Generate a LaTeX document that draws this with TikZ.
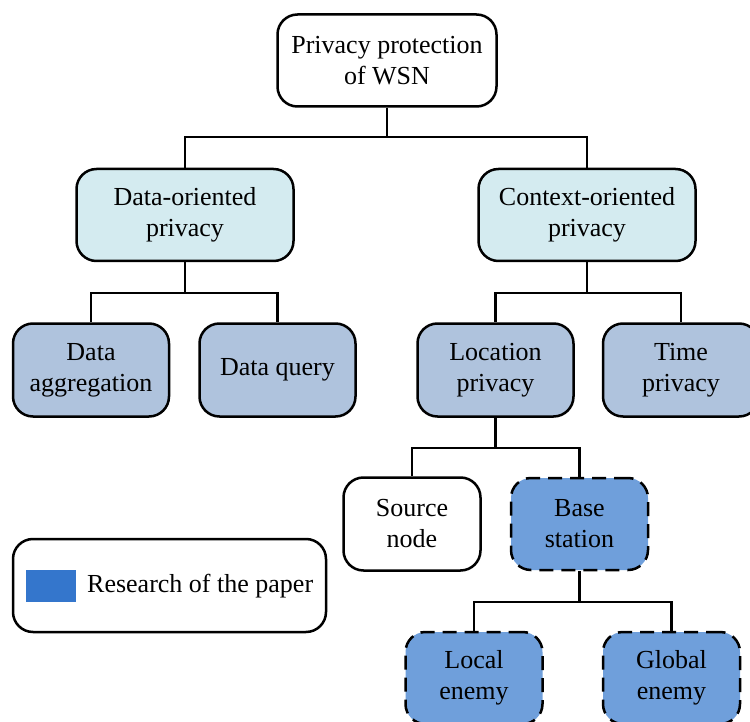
\documentclass[tikz,border=0pt]{standalone}
\usepackage{fontspec}
\setmainfont{Liberation Serif}
\definecolor{cyanbox}{HTML}{D4EBF0}
\definecolor{graybox}{HTML}{AFC3DD}
\definecolor{bluebox}{HTML}{6F9FDB}
\definecolor{swatch}{HTML}{3476CC}
\begin{document}
\begin{tikzpicture}[x=1pt,y=-1pt,
  box/.style={draw=black, line width=2.5pt, rounded corners=20pt, align=center,
    inner sep=0pt, font=\fontsize{26}{31}\selectfont},
  rootbox/.style={box, fill=white, minimum width=219pt, minimum height=92pt},
  lvltwo/.style={box, fill=cyanbox, minimum width=217pt, minimum height=92pt},
  lvlthree/.style={box, fill=graybox, minimum width=156pt, minimum height=93pt},
  lvlfour/.style={box, fill=white, minimum width=137pt, minimum height=93pt},
  research/.style={box, fill=bluebox, dash pattern=on 14pt off 8pt, minimum width=137pt, minimum height=92pt},
  conn/.style={draw=black, line width=2.2pt}
]
\useasboundingbox (0,0) rectangle (750,722);
\node[rootbox] (root) at (387,60.5) {Privacy protection\\of WSN};
\node[lvltwo] (data) at (185,215) {Data-oriented\\privacy};
\node[lvltwo] (ctx) at (587,215) {Context-oriented\\privacy};
\node[lvlthree] (agg) at (91,370) {Data\\aggregation};
\node[lvlthree] (query) at (277.5,370) {Data query};
\node[lvlthree] (loc) at (495.5,370) {Location\\privacy};
\node[lvlthree] (time) at (681,370) {Time\\privacy};
\node[lvlfour] (src) at (412,524) {Source\\node};
\node[research] (base) at (579.5,524) {Base\\station};
\node[research] (local) at (474,678) {Local\\enemy};
\node[research] (global) at (671.5,678) {Global\\enemy};
\node[box, fill=white, minimum width=313pt, minimum height=93pt] (legend) at (169.5,585.5) {};
\node[fill=swatch, minimum width=50pt, minimum height=32pt, inner sep=0pt] (sw) at (51,586) {};
\node[anchor=west, inner sep=0pt, font=\fontsize{26}{31}\selectfont] (legtext) at (87,586) {Research of the paper};
% connectors
\coordinate (j1) at (387,137);
\coordinate (j2) at (185,293);
\coordinate (j3) at (587,293);
\coordinate (j4) at (495.5,448);
\coordinate (j5) at (579.5,602);
\begin{scope}[conn]
\draw (root.south) -- (j1) -| (data.north);
\draw (j1) -| (ctx.north);
\draw (data.south) -- (j2) -| (agg.north);
\draw (j2) -| (query.north);
\draw (ctx.south) -- (j3) -| (loc.north);
\draw (j3) -| (time.north);
\draw (loc.south) -- (j4) -| (src.north);
\draw (j4) -| (base.north);
\draw (base.south) -- (j5) -| (local.north);
\draw (j5) -| (global.north);
\end{scope}
\end{tikzpicture}
\end{document}
